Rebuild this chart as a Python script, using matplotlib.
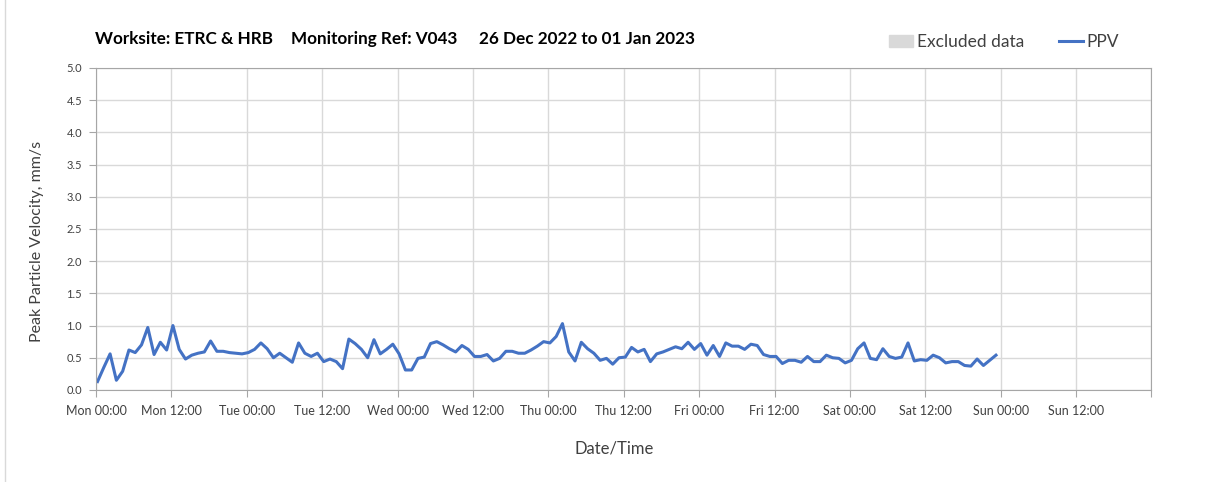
import pandas as pd
import matplotlib.pyplot as plt
import matplotlib.dates as mdates
from matplotlib.patches import Patch
from matplotlib.lines import Line2D

plt.rcParams['font.family'] = ['Lato', 'DejaVu Sans']

title_parts = ['Worksite: ETRC & HRB', 'Monitoring Ref: V043', '26 Dec 2022 to 01 Jan 2023']
start = '2022-12-26 00:15'

# hourly peak particle velocity, mm/s
ppv = [
    0.13, 0.35, 0.56, 0.15, 0.29, 0.62, 0.58, 0.70, 0.97, 0.55, 0.74, 0.62,
    1.00, 0.63, 0.48, 0.54, 0.57, 0.59, 0.76, 0.60, 0.60, 0.58, 0.57, 0.56,
    0.58, 0.63, 0.73, 0.64, 0.50, 0.57, 0.50, 0.43, 0.73, 0.57, 0.52, 0.57,
    0.44, 0.48, 0.44, 0.33, 0.79, 0.72, 0.63, 0.50, 0.78, 0.56, 0.63, 0.71,
    0.56, 0.31, 0.31, 0.49, 0.51, 0.72, 0.75, 0.70, 0.64, 0.59, 0.69, 0.63,
    0.52, 0.52, 0.55, 0.45, 0.49, 0.60, 0.60, 0.57, 0.57, 0.62, 0.68, 0.75,
    0.73, 0.83, 1.03, 0.59, 0.45, 0.74, 0.64, 0.57, 0.46, 0.49, 0.40, 0.50,
    0.51, 0.66, 0.59, 0.63, 0.44, 0.56, 0.59, 0.63, 0.67, 0.64, 0.74, 0.63,
    0.72, 0.54, 0.69, 0.52, 0.73, 0.68, 0.68, 0.63, 0.71, 0.69, 0.55, 0.52,
    0.52, 0.41, 0.46, 0.46, 0.43, 0.52, 0.44, 0.44, 0.54, 0.50, 0.49, 0.42,
    0.46, 0.64, 0.73, 0.49, 0.47, 0.64, 0.52, 0.49, 0.51, 0.73, 0.45, 0.47,
    0.46, 0.54, 0.50, 0.42, 0.44, 0.44, 0.38, 0.37, 0.48, 0.38, 0.46, 0.54,
]
times = pd.date_range(start, periods=len(ppv), freq='h')

fig = plt.figure(figsize=(12.07, 4.82), dpi=100)
ax = fig.add_axes([0.0795, 0.191, 0.8745, 0.668])

ax.plot(times, ppv, color='#4472C4', lw=2.2)

end = pd.Timestamp('2023-01-02')
ax.set_xlim(pd.Timestamp('2022-12-26'), end)
ax.set_ylim(0, 5)
ax.set_yticks([i * 0.5 for i in range(11)])
ax.yaxis.set_major_formatter(plt.FormatStrFormatter('%.1f'))
ax.xaxis.set_major_locator(mdates.HourLocator(byhour=[0, 12]))
ax.xaxis.set_major_formatter(
    plt.FuncFormatter(lambda v, p: '' if v >= mdates.date2num(end)
                      else mdates.num2date(v).strftime('%a %H:%M')))

ax.grid(True, color='#d9d9d9', lw=1)
for s in ax.spines.values():
    s.set_color('#a6a6a6')
ax.tick_params(axis='both', colors='#a6a6a6', labelcolor='#404040', length=5)
ax.tick_params(axis='x', labelsize=9, pad=6)
ax.tick_params(axis='y', labelsize=8, pad=5)

ax.set_ylabel('Peak Particle Velocity, mm/s', fontsize=11.5, color='#404040')
ax.yaxis.set_label_coords(-0.0495, 0.46)
ax.set_xlabel('Date/Time', fontsize=12, color='#404040')
ax.xaxis.set_label_coords(0.491, -0.158)

for x, part in zip([0.0785, 0.241, 0.397], title_parts):
    fig.text(x, 0.92, part, fontsize=12.3, fontweight='bold', color='black', va='center')

handles = [Patch(color='#d9d9d9', label='Excluded data'),
           Line2D([], [], color='#4472C4', lw=2.2, label='PPV')]
fig.legend(handles=handles, loc='center right', bbox_to_anchor=(0.94, 0.912), ncol=2,
           frameon=False, fontsize=12.5, handlelength=1.4, handletextpad=0.2,
           columnspacing=2.0, labelcolor='#404040')

fig.add_artist(plt.Line2D([0.004, 0.004], [0, 1], color='#d9d9d9', lw=1))

fig.savefig('out.png', dpi=100)
